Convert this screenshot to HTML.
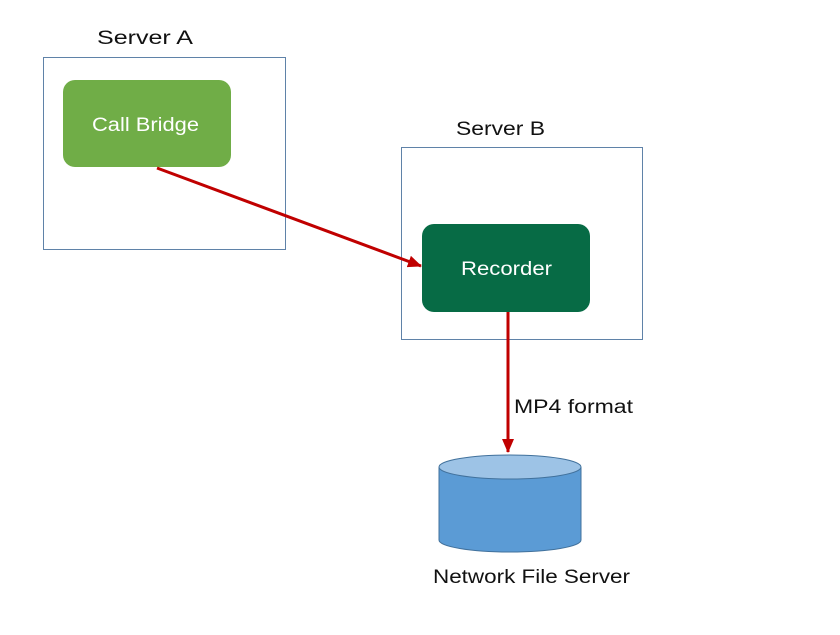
<!DOCTYPE html>
<html><head><style>
body{margin:0;background:#fff;}
svg text{font-family:"Liberation Sans",sans-serif;}
</style></head><body>
<svg width="840" height="630" viewBox="0 0 840 630" xmlns="http://www.w3.org/2000/svg">
<defs>
<marker id="ah" markerWidth="14" markerHeight="12" refX="13" refY="6" orient="auto" markerUnits="userSpaceOnUse">
<path d="M0,0 L14,6 L0,12 Z" fill="#c00000"/>
</marker>
</defs>
<rect x="43.5" y="57.5" width="242" height="192" fill="none" stroke="#5f82a8" stroke-width="1"/>
<rect x="401.5" y="147.5" width="241" height="192" fill="none" stroke="#5f82a8" stroke-width="1"/>
<text x="97" y="44" font-size="19" fill="#111" textLength="96" lengthAdjust="spacingAndGlyphs">Server A</text>
<text x="456" y="135" font-size="19" fill="#111" textLength="89" lengthAdjust="spacingAndGlyphs">Server B</text>
<rect x="63" y="80" width="168" height="87" rx="12" fill="#70ad47"/>
<text x="92" y="131" font-size="19" fill="#fff" textLength="107" lengthAdjust="spacingAndGlyphs">Call Bridge</text>
<rect x="422" y="224" width="168" height="88" rx="12" fill="#076b45"/>
<text x="461" y="275" font-size="19" fill="#fff" textLength="91" lengthAdjust="spacingAndGlyphs">Recorder</text>
<line x1="157" y1="168" x2="421" y2="266" stroke="#c00000" stroke-width="3" marker-end="url(#ah)"/>
<line x1="508" y1="312" x2="508" y2="452" stroke="#c00000" stroke-width="3" marker-end="url(#ah)"/>
<text x="514" y="413" font-size="19" fill="#111" textLength="119" lengthAdjust="spacingAndGlyphs">MP4 format</text>
<path d="M439,467 L439,540 A71,12 0 0 0 581,540 L581,467" fill="#5b9bd5" stroke="#41719c" stroke-width="1"/>
<ellipse cx="510" cy="467" rx="71" ry="12" fill="#9dc3e6" stroke="#41719c" stroke-width="1"/>
<text x="433" y="583" font-size="19" fill="#111" textLength="197" lengthAdjust="spacingAndGlyphs">Network File Server</text>
</svg>
</body></html>
